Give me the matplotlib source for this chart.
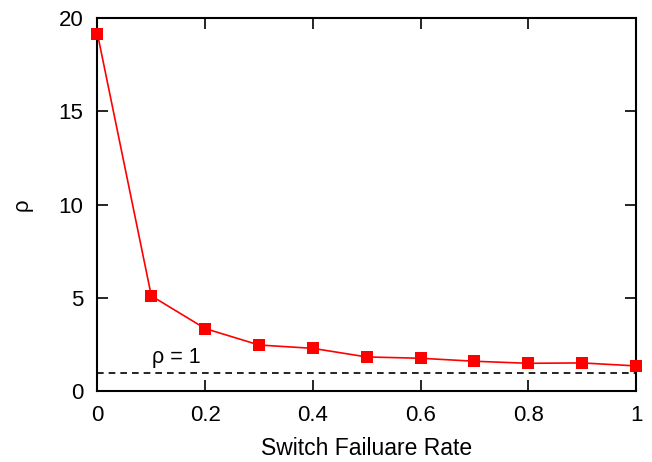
import matplotlib
matplotlib.use("Agg")
import matplotlib.pyplot as plt

plt.rcParams['font.family'] = ['Liberation Sans', 'DejaVu Sans']

# switch failure rate vs rho
rate = [0, 0.1, 0.2, 0.3, 0.4, 0.5, 0.6, 0.7, 0.8, 0.9, 1.0]
rho = [19.15, 5.12, 3.37, 2.49, 2.31, 1.85, 1.78, 1.62, 1.51, 1.53, 1.37]
baseline = 1.0

fig = plt.figure(figsize=(6.52, 4.62), dpi=100)
ax = fig.add_axes([0.1495, 0.1526, 0.826, 0.8084])

ax.plot(rate, rho, color='#ff0000', lw=1.2, marker='s', ms=8,
        markeredgewidth=0, clip_on=False, zorder=3)
ax.axhline(baseline, color='black', lw=1.2, ls=(0, (4, 3)))
ax.text(0.102, baseline + 0.5, 'ρ = 1', fontsize=15.5)

ax.set_xlim(0, 1)
ax.set_ylim(0, 20)
ax.set_xticks([0, 0.2, 0.4, 0.6, 0.8, 1.0])
ax.set_xticklabels(['0', '0.2', '0.4', '0.6', '0.8', '1'])
ax.set_yticks([0, 5, 10, 15, 20])
ax.tick_params(direction='in', length=8, width=1.2, labelsize=16,
               top=True, right=True, pad=10)
for s in ax.spines.values():
    s.set_linewidth(1.5)

ax.set_xlabel('Switch Failuare Rate', fontsize=16.5, labelpad=8)
ax.set_ylabel('ρ', fontsize=16, labelpad=19)

fig.savefig('out.png', dpi=100)
